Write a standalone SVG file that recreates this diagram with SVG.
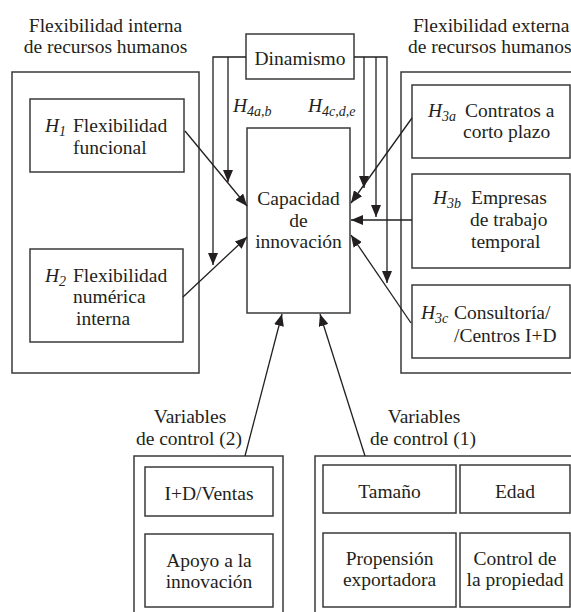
<svg xmlns="http://www.w3.org/2000/svg" width="571" height="612" viewBox="0 0 571 612">
<style>
  text { font-family: 'Liberation Serif', 'Times New Roman', 'DejaVu Serif', serif; font-size: 19.5px; fill: #231f20; }
  .c { text-anchor: middle; }
  .i { font-style: italic; }
  .sub { font-style: italic; font-size: 14px; }
  .box { fill: #fff; stroke: #3a3a3a; stroke-width: 1.5; }
  .con { fill: none; stroke: #231f20; stroke-width: 1.3; }
</style>
<defs>
  <marker id="ah" markerUnits="userSpaceOnUse" markerWidth="12" markerHeight="10" refX="12" refY="5" orient="auto">
    <path d="M0,0 L12,5 L0,10 z" fill="#231f20"/>
  </marker>
</defs>
<rect width="571" height="612" fill="#fff"/>
<g font-family="Liberation Serif, serif">
<g id="interna">
  <text class="c" x="105.5" y="32">Flexibilidad interna</text>
  <text class="c" x="105.5" y="53">de recursos humanos</text>
  <rect class="box" x="12" y="72" width="187" height="301"/>
</g>
<g id="h1">
  <rect class="box" x="30" y="99" width="154" height="73"/>
  <text x="45" y="132"><tspan class="i">H</tspan><tspan class="sub" dy="4">1</tspan><tspan dy="-4" x="73">Flexibilidad</tspan></text>
  <text x="73" y="154">funcional</text>
</g>
<g id="h2">
  <rect class="box" x="30" y="249" width="153" height="93"/>
  <text x="45" y="282"><tspan class="i">H</tspan><tspan class="sub" dy="4">2</tspan><tspan dy="-4" x="73">Flexibilidad</tspan></text>
  <text x="73" y="303">numérica</text>
  <text x="76" y="325">interna</text>
</g>

<g id="externa">
  <text x="413" y="32">Flexibilidad externa</text>
  <text x="408" y="53">de recursos humanos</text>
  <rect class="box" x="401" y="72" width="185" height="301"/>
</g>
<g id="h3a">
  <rect class="box" x="412" y="85" width="158" height="73"/>
  <text x="428" y="117"><tspan class="i">H</tspan><tspan class="sub" dy="4">3a</tspan><tspan dy="-4" x="465">Contratos a</tspan></text>
  <text x="463" y="138">corto plazo</text>
</g>
<g id="h3b">
  <rect class="box" x="412" y="174" width="158" height="94"/>
  <text x="433" y="204"><tspan class="i">H</tspan><tspan class="sub" dy="4">3b</tspan><tspan dy="-4" x="471">Empresas</tspan></text>
  <text x="470" y="226">de trabajo</text>
  <text x="471" y="248">temporal</text>
</g>
<g id="h3c">
  <rect class="box" x="412" y="285" width="158" height="73"/>
  <text x="421" y="319"><tspan class="i">H</tspan><tspan class="sub" dy="4">3c</tspan><tspan dy="-4" x="454">Consultoría/</tspan></text>
  <text x="454" y="342">/Centros I+D</text>
</g>

<g id="dinamismo">
  <rect class="box" x="246" y="34" width="108" height="45"/>
  <text class="c" x="300" y="65">Dinamismo</text>
</g>

<g id="capacidad">
  <rect class="box" x="247" y="128" width="103" height="185"/>
  <text class="c" x="298.5" y="205">Capacidad</text>
  <text class="c" x="298.5" y="227">de</text>
  <text class="c" x="298.5" y="248">innovación</text>
</g>

<g id="control2">
  <text class="c" x="190" y="423">Variables</text>
  <text class="c" x="189" y="445">de control (2)</text>
  <rect class="box" x="134" y="456" width="149" height="170"/>
  <rect class="box" x="145" y="467" width="128" height="49"/>
  <text class="c" x="209" y="500">I+D/Ventas</text>
  <rect class="box" x="145" y="534" width="128" height="73"/>
  <text class="c" x="209" y="567">Apoyo a la</text>
  <text class="c" x="209" y="588">innovación</text>
</g>

<g id="control1">
  <text class="c" x="424" y="423">Variables</text>
  <text class="c" x="423" y="445">de control (1)</text>
  <rect class="box" x="315" y="456" width="270" height="170"/>
  <rect class="box" x="323" y="465" width="133" height="48"/>
  <text class="c" x="389.5" y="498">Tamaño</text>
  <rect class="box" x="460" y="465" width="110" height="48"/>
  <text class="c" x="515" y="498">Edad</text>
  <rect class="box" x="323" y="533" width="133" height="74"/>
  <text class="c" x="389.5" y="565">Propensión</text>
  <text class="c" x="389.5" y="586">exportadora</text>
  <rect class="box" x="460" y="533" width="110" height="74"/>
  <text class="c" x="515" y="565">Control de</text>
  <text class="c" x="515" y="586">la propiedad</text>
</g>

<g id="h4labels">
  <text x="233" y="112"><tspan class="i">H</tspan><tspan class="sub" dy="4">4a,b</tspan></text>
  <text x="308" y="112"><tspan class="i">H</tspan><tspan class="sub" dy="4">4c,d,e</tspan></text>
</g>
</g>
<g id="connectors">
  <path class="con" d="M246,57 H213 V265" marker-end="url(#ah)"/>
  <path class="con" d="M228,57 V182" marker-end="url(#ah)"/>
  <path class="con" d="M354,57 H387 V283" marker-end="url(#ah)"/>
  <path class="con" d="M364,57 V188" marker-end="url(#ah)"/>
  <path class="con" d="M376,57 V217" marker-end="url(#ah)"/>
  <line class="con" x1="185" y1="131" x2="247" y2="206" marker-end="url(#ah)"/>
  <line class="con" x1="183" y1="297" x2="247" y2="237" marker-end="url(#ah)"/>
  <line class="con" x1="412" y1="118" x2="351" y2="203" marker-end="url(#ah)"/>
  <line class="con" x1="412" y1="220" x2="351" y2="220" marker-end="url(#ah)"/>
  <line class="con" x1="411" y1="323" x2="351" y2="235" marker-end="url(#ah)"/>
  <line class="con" x1="245" y1="456" x2="282" y2="314" marker-end="url(#ah)"/>
  <line class="con" x1="365" y1="456" x2="320" y2="314" marker-end="url(#ah)"/>
</g>
</svg>
